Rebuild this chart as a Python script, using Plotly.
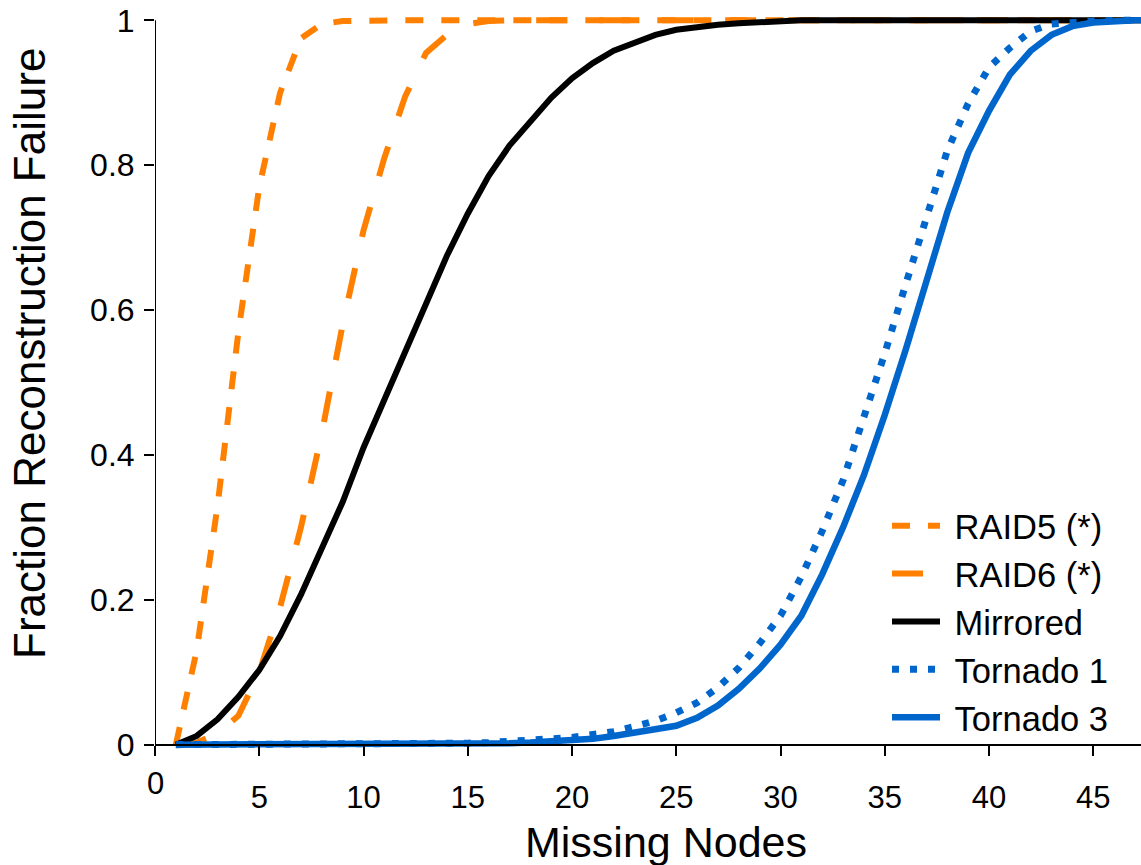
import plotly.graph_objects as go

missing_nodes = list(range(1, 49))

raid5 = [0, 0.13, 0.33, 0.57, 0.77, 0.9, 0.975, 0.995, 0.999] + [1] * 39
raid6 = [0, 0.003, 0.015, 0.04, 0.1, 0.19, 0.3, 0.43, 0.58, 0.71, 0.81, 0.895,
         0.955, 0.98, 0.995, 0.999] + [1] * 32
mirrored = [0, 0.012, 0.035, 0.066, 0.103, 0.15, 0.207, 0.27, 0.335, 0.41, 0.477,
            0.545, 0.613, 0.675, 0.733, 0.785, 0.827, 0.86, 0.893, 0.92, 0.941,
            0.958, 0.97, 0.98, 0.987, 0.991, 0.994, 0.996, 0.998, 0.999] + [1] * 18
tornado1 = [0] * 14 + [0.002, 0.003, 0.004, 0.006, 0.008, 0.01, 0.013, 0.018,
                       0.025, 0.033, 0.044, 0.058, 0.079, 0.106, 0.14, 0.178,
                       0.232, 0.295, 0.365, 0.45, 0.54, 0.635, 0.73, 0.82, 0.885,
                       0.935, 0.962, 0.985, 0.995, 0.998, 0.999, 1, 1, 1]
tornado3 = [0] * 14 + [0.001, 0.001, 0.002, 0.003, 0.004, 0.006, 0.008, 0.012,
                       0.016, 0.02, 0.026, 0.037, 0.054, 0.077, 0.105, 0.138,
                       0.178, 0.235, 0.3, 0.372, 0.455, 0.545, 0.64, 0.735, 0.817,
                       0.875, 0.925, 0.958, 0.98, 0.992, 0.997, 0.999, 1, 1]

x_tick_vals = [0, 5, 10, 15, 20, 25, 30, 35, 40, 45]
y_tick_vals = [0, 0.2, 0.4, 0.6, 0.8, 1]
y_tick_text = ["0", "0.2", "0.4", "0.6", "0.8", "1"]

ORANGE = "#FF8000"
BLUE = "#0066CC"
FONT = "Liberation Sans, Arial, sans-serif"
NB = "\u00a0"

series = [
    ("RAID5 (*)", raid5, ORANGE, "18px,18px", 6),
    ("RAID6 (*)", raid6, ORANGE, "31px,32px", 6),
    ("Mirrored", mirrored, "black", "solid", 6),
    ("Tornado 1", tornado1, BLUE, "7px,11px", 7),
    ("Tornado 3", tornado3, BLUE, "solid", 6.5),
]

fig = go.Figure()
for name, ys, color, dash, w in series:
    fig.add_trace(go.Scatter(
        x=missing_nodes, y=ys, mode="lines", name=NB + name,
        line=dict(color=color, dash=dash, width=w),
    ))

YPAD = 0.006
L, T, PW, PH = 155, 16, 986, 733
fig.update_layout(
    width=1141, height=865,
    margin=dict(l=L, r=0, t=T, b=116),
    paper_bgcolor="white", plot_bgcolor="white",
    font=dict(family=FONT, color="black"),
    showlegend=True,
    legend=dict(
        x=(892 - 5 - L) / PW, y=0.344, xanchor="left", yanchor="top",
        font=dict(size=34.5, family=FONT, color="black"),
        bgcolor="rgba(0,0,0,0)", itemwidth=48, tracegroupgap=0,
    ),
    xaxis=dict(
        range=[0, 47.29], anchor="free", position=YPAD / (1 + 2 * YPAD),
        showgrid=False, zeroline=False, showline=True, linecolor="black",
        linewidth=2, ticks="outside", ticklen=10, tickwidth=2, tickcolor="black",
        tickvals=x_tick_vals, ticktext=[""] + [str(v) for v in x_tick_vals[1:]],
        tickfont=dict(size=31, family=FONT, color="black"),
        ticklabelstandoff=15,
    ),
    yaxis=dict(
        range=[-YPAD, 1 + YPAD],
        showgrid=False, zeroline=False, showline=False,
        ticks="outside", ticklen=10, tickwidth=2, tickcolor="black",
        tickvals=y_tick_vals, ticktext=y_tick_text,
        tickfont=dict(size=32, family=FONT, color="black"),
        ticklabelstandoff=3,
    ),
)

# y axis line exactly from 0 to 1
fig.add_shape(type="line", xref="x", yref="y", x0=0, x1=0, y0=0, y1=1,
              line=dict(color="black", width=2), layer="above")

# "0" x tick label (sits slightly higher in the reference)
fig.add_annotation(x=0, xref="x", y=(749 - 783.5) / PH, yref="paper", text="0",
                   showarrow=False, yanchor="middle", xanchor="center",
                   font=dict(size=31, family=FONT, color="black"))

# axis titles
fig.add_annotation(x=(665.5 - L) / PW, xref="paper", y=(749 - 842) / PH, yref="paper",
                   text="Missing Nodes", showarrow=False, yanchor="middle",
                   xanchor="center", font=dict(size=43, family=FONT, color="black"))
fig.add_annotation(x=(30 - L) / PW, xref="paper", y=1 - (354 - T) / PH, yref="paper",
                   text="Fraction Reconstruction Failure", showarrow=False,
                   textangle=-90, yanchor="middle", xanchor="center",
                   font=dict(size=44, family=FONT, color="black"))

fig.write_html("out.html")
